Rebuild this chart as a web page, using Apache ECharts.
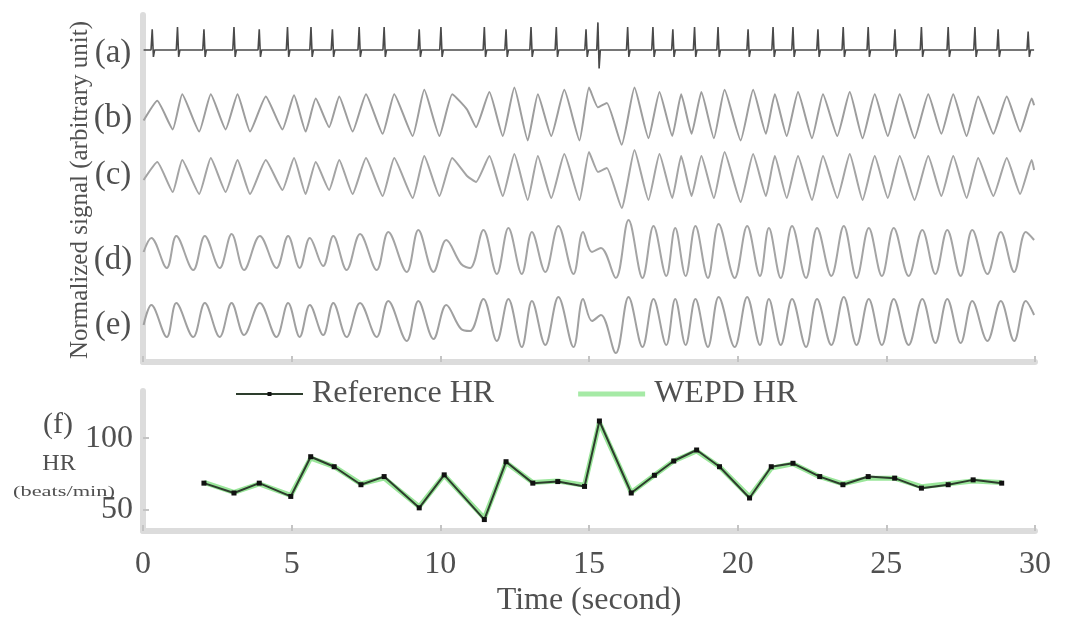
<!DOCTYPE html>
<html><head><meta charset="utf-8">
<script src="https://cdn.jsdelivr.net/npm/echarts@6/dist/echarts.min.js"></script>
<style>html,body{margin:0;padding:0;background:#fff}#chart{width:1075px;height:618px}</style>
</head><body><div id="chart"></div>
<script>
// ---------- data ----------
const xTicks = [0, 5, 10, 15, 20, 25, 30];
const hrTicks = [50, 100];
const panelLabels = ['(a)', '(b)', '(c)', '(d)', '(e)'];

// (a) ECG: R-peak times (s), peak height and S-dip (normalized)
const ecgTimes = [0.31, 1.16, 2.05, 3.06, 3.91, 4.86, 5.65, 6.37, 7.27, 8.11, 9.29, 10.02, 11.48, 12.21, 13.05, 13.9, 14.9, 15.3, 16.3, 17.15, 17.82, 18.55, 19.34, 20.35, 21.19, 21.86, 22.7, 23.55, 24.39, 25.29, 26.18, 27.08, 27.98, 28.76, 29.77];
const ecgPeak  = [0.9, 1.0, 0.9, 1.0, 0.9, 1.0, 1.0, 0.9, 1.0, 1.0, 0.9, 1.0, 1.0, 0.9, 1.0, 1.0, 0.9, 1.2, 1.0, 1.0, 0.9, 1.0, 1.0, 0.9, 1.0, 1.0, 0.9, 1.0, 1.0, 0.9, 1.0, 1.0, 1.0, 0.9, 0.8];
const ecgDip   = [-0.3, -0.3, -0.3, -0.3, -0.3, -0.3, -0.3, -0.3, -0.3, -0.3, -0.3, -0.3, -0.3, -0.3, -0.3, -0.3, -0.3, -0.8, -0.3, -0.3, -0.3, -0.3, -0.3, -0.3, -0.3, -0.3, -0.3, -0.3, -0.3, -0.3, -0.3, -0.3, -0.3, -0.3, -0.3];

// (b)-(e): times of the turning points (s) and normalized values
const tBC = [0.02, 0.48, 1.0, 1.32, 1.89, 2.28, 2.78, 3.18, 3.6, 4.13, 4.69, 5.08, 5.47, 5.81, 6.26, 6.6, 7.05, 7.5, 8.06, 8.45, 9.07, 9.46, 9.97, 10.4, 10.9, 11.2, 11.65, 12.1, 12.49, 12.94, 13.28, 13.73, 14.17, 14.68, 15.0, 15.3, 15.6, 16.1, 16.53, 17.0, 17.37, 17.8, 18.1, 18.45, 18.78, 19.2, 19.56, 20.1, 20.52, 20.95, 21.25, 21.65, 22.03, 22.5, 22.87, 23.35, 23.77, 24.2, 24.61, 25.05, 25.45, 25.95, 26.41, 26.85, 27.25, 27.7, 28.09, 28.6, 29.05, 29.5, 29.89, 29.97];
const tDE = [0.02, 0.28, 0.8, 1.12, 1.69, 2.08, 2.58, 2.98, 3.4, 3.93, 4.49, 4.88, 5.27, 5.61, 6.06, 6.4, 6.85, 7.3, 7.86, 8.25, 8.87, 9.26, 9.77, 10.2, 10.7, 11.0, 11.45, 11.9, 12.29, 12.74, 13.08, 13.53, 13.97, 14.48, 14.8, 15.1, 15.4, 15.9, 16.33, 16.8, 17.17, 17.6, 17.9, 18.25, 18.58, 19.0, 19.36, 19.9, 20.32, 20.75, 21.05, 21.45, 21.83, 22.3, 22.67, 23.15, 23.57, 24.0, 24.41, 24.85, 25.25, 25.75, 26.21, 26.65, 27.05, 27.5, 27.89, 28.4, 28.85, 29.3, 29.69, 29.97];
const bVals = [-0.3, 0.6, -0.7, 0.9, -0.8, 0.9, -0.7, 0.9, -0.8, 0.8,
  -0.7, 0.85, -0.8, 0.7, -0.6, 0.8, -0.8, 0.9, -0.9, 0.9,
  -1.0, 1.1, -1.0, 0.9, 0.2, -0.6, 1.0, -1.0, 1.2, -1.2,
  0.9, -1.0, 1.1, -1.2, 1.2, 0.3, 0.5, -1.4, 1.2, -1.1,
  1.0, -1.0, 0.9, -0.9, 1.0, -1.1, 1.1, -1.2, 1.1, -0.9,
  0.9, -1.0, 1.0, -1.1, 0.9, -1.0, 1.0, -1.1, 0.9, -1.0,
  0.9, -1.1, 0.9, -0.9, 0.9, -1.0, 0.8, -0.9, 0.8, -0.8,
  0.7, 0.4];
const cVals = [-0.2, 0.7, -0.8, 0.8, -0.9, 0.9, -0.8, 0.8, -0.9, 0.8,
  -0.7, 0.9, -0.9, 0.7, -0.7, 0.8, -0.9, 0.9, -1.0, 0.9,
  -1.1, 1.0, -1.0, 0.9, 0.0, -0.3, 1.0, -1.0, 1.1, -1.2,
  1.0, -1.1, 1.1, -1.2, 1.2, 0.2, 0.4, -1.6, 1.3, -1.2,
  1.1, -1.1, 1.0, -1.0, 1.0, -1.1, 1.2, -1.3, 1.1, -1.0,
  1.0, -1.1, 1.0, -1.2, 1.0, -1.1, 1.1, -1.2, 1.0, -1.1,
  1.0, -1.2, 1.0, -1.0, 1.0, -1.1, 0.9, -1.0, 0.9, -0.9,
  0.8, 0.3];
const dVals = [0.0, 0.7, -0.8, 0.8, -0.9, 0.8, -0.8, 0.9, -0.9, 0.8,
  -0.8, 0.8, -0.8, 0.7, -0.7, 0.8, -0.9, 0.9, -0.9, 1.0,
  -1.0, 1.1, -1.0, 0.6, -0.6, -0.8, 1.1, -1.1, 1.2, -1.1,
  1.0, -1.0, 1.3, -1.1, 1.0, 0.0, 0.2, -1.3, 1.6, -1.3,
  1.3, -1.2, 1.2, -1.2, 1.3, -1.3, 1.4, -1.3, 1.3, -1.2,
  1.2, -1.3, 1.3, -1.3, 1.2, -1.2, 1.3, -1.3, 1.2, -1.2,
  1.2, -1.2, 1.1, -1.1, 1.1, -1.2, 1.1, -1.1, 1.0, -1.0,
  1.0, 0.6];
const eVals = [-0.2, 0.8, -0.8, 0.9, -0.8, 0.9, -0.8, 0.9, -0.7, 0.9,
  -0.8, 0.9, -0.8, 0.8, -0.7, 0.9, -0.8, 0.9, -0.8, 1.0,
  -1.0, 1.0, -0.9, 0.8, -0.4, -0.5, 1.1, -1.0, 1.1, -1.3,
  1.0, -1.2, 1.2, -1.3, 1.1, 0.0, 0.3, -1.6, 1.2, -1.3,
  1.1, -1.2, 1.1, -1.2, 1.1, -1.3, 1.2, -1.3, 1.2, -1.2,
  1.1, -1.2, 1.1, -1.3, 1.1, -1.2, 1.2, -1.2, 1.1, -1.2,
  1.1, -1.2, 1.1, -1.1, 1.1, -1.1, 1.0, -1.0, 1.0, -1.0,
  1.0, 0.3];

// (f) heart rate
const hrTime = [2.05, 3.06, 3.91, 4.97, 5.64, 6.43, 7.33, 8.11, 9.29, 10.13, 11.48, 12.21, 13.11, 13.95, 14.85, 15.35, 16.42, 17.2, 17.85, 18.62, 19.39, 20.4, 21.13, 21.86, 22.76, 23.54, 24.39, 25.28, 26.18, 27.08, 27.92, 28.88];
const refHR  = [68.5, 61.6, 68.5, 59.2, 87, 80, 67.4, 73.1, 51.2, 74.3, 43, 83.5, 68.5, 69.6, 66.2, 112, 61.6, 74, 84, 91.7, 80, 58.1, 80, 82.4, 73.1, 67.4, 73.1, 72, 65, 67.4, 70.8, 68.5];
const wepdHR = [69, 62, 68, 60, 86, 80, 68, 72, 52, 74, 44, 83, 69, 70, 67, 111, 62, 74, 84, 91, 80, 59, 79, 82, 73, 68, 72, 72, 66, 68, 70, 69];

// ---------- layout / styling ----------
const FONT = '"Liberation Serif", "DejaVu Serif", serif';
const TXT = '#505050';
const AX = '#dcdcdc';
// vertical placement of each trace in the top panel (axis units = px)
const laneA = {base: 312, scale: 23};
const lanes = [{base: 248, scale: 22}, {base: 186, scale: 20}, {base: 110, scale: 20}, {base: 41, scale: 20}];

const ecgData = [[0.02, laneA.base]];
ecgTimes.forEach((t, i) => {
  ecgData.push([t - 0.04, laneA.base]);
  ecgData.push([t, laneA.base + ecgPeak[i] * laneA.scale]);
  ecgData.push([t + 0.04, laneA.base + ecgDip[i] * laneA.scale]);
  ecgData.push([t + 0.08, laneA.base]);
});
ecgData.push([29.97, laneA.base]);

function lane(times, vals, ln) {
  return times.map((t, i) => [t, ln.base + vals[i] * ln.scale]);
}
const sig = [lane(tBC, bVals, lanes[0]), lane(tBC, cVals, lanes[1]), lane(tDE, dVals, lanes[2]), lane(tDE, eVals, lanes[3])];

const chart = echarts.init(document.getElementById('chart'), null, {renderer: 'canvas'});

const labelYs = [53, 118, 175, 260, 325];
const graphics = panelLabels.map((s, i) => ({
  type: 'text', x: 113, y: labelYs[i],
  style: {text: s, font: '33px ' + FONT, fill: TXT, align: 'center', verticalAlign: 'middle'}
}));
graphics.push({type: 'text', x: 80, y: 190, rotation: Math.PI / 2,
  style: {text: 'Normalized signal (arbitrary unit)', font: '25px ' + FONT, fill: TXT, align: 'center', verticalAlign: 'middle'}});
graphics.push({type: 'text', x: 58, y: 425, style: {text: '(f)', font: '30px ' + FONT, fill: TXT, align: 'center', verticalAlign: 'middle'}});
graphics.push({type: 'text', x: 59, y: 464, style: {text: 'HR', font: '24px ' + FONT, fill: TXT, align: 'center', verticalAlign: 'middle'}});
graphics.push({type: 'text', x: 64, y: 492, scaleX: 1.6, originX: 0, style: {text: '(beats/min)', font: '14px ' + FONT, fill: TXT, align: 'center', verticalAlign: 'middle'}});
graphics.push({type: 'text', x: 589, y: 601, style: {text: 'Time (second)', font: '32px ' + FONT, fill: TXT, align: 'center', verticalAlign: 'middle'}});

const axisLine = {show: true, onZero: false, lineStyle: {color: AX, width: 6}};
const tick = {show: true, inside: true, length: 6, lineStyle: {color: '#c4c4c4', width: 2}};

chart.setOption({
  animation: false,
  backgroundColor: '#ffffff',
  grid: [
    {left: 143, width: 892, top: 15, height: 347},
    {left: 143, width: 892, top: 391, height: 140}
  ],
  xAxis: [
    {type: 'value', gridIndex: 0, min: 0, max: 30, interval: 5, axisLine, axisTick: tick,
      axisLabel: {show: false}, splitLine: {show: false}},
    {type: 'value', gridIndex: 1, min: 0, max: 30, interval: 5, axisLine, axisTick: tick,
      axisLabel: {show: true, margin: 18, color: TXT, fontFamily: FONT, fontSize: 32,
        formatter: v => xTicks.includes(v) ? String(v) : ''},
      splitLine: {show: false}}
  ],
  yAxis: [
    {type: 'value', gridIndex: 0, min: 0, max: 347, axisLine, axisTick: {show: false},
      axisLabel: {show: false}, splitLine: {show: false}},
    {type: 'value', gridIndex: 1, min: 35, max: 133, axisLine,
      axisTick: Object.assign({}, tick, {customValues: hrTicks}),
      axisLabel: {show: true, customValues: hrTicks, margin: 10, color: TXT, fontFamily: FONT, fontSize: 32},
      splitLine: {show: false}}
  ],
  legend: {
    left: 230, top: 373, itemWidth: 67, itemHeight: 5, itemGap: 84,
    textStyle: {fontFamily: FONT, fontSize: 32, color: TXT, padding: [0, 0, 0, 4]},
    data: [{name: 'Reference HR'}, {name: 'WEPD HR', icon: 'rect', itemStyle: {color: '#a6eaa6'}}]
  },
  graphic: graphics,
  series: [
    {type: 'line', xAxisIndex: 0, yAxisIndex: 0, data: ecgData, showSymbol: false, silent: true,
      lineStyle: {color: '#4a4a4a', width: 1.6}},
    {type: 'line', xAxisIndex: 0, yAxisIndex: 0, data: sig[0], showSymbol: false, silent: true, smooth: 0.15,
      lineStyle: {color: '#9d9d9d', width: 2}},
    {type: 'line', xAxisIndex: 0, yAxisIndex: 0, data: sig[1], showSymbol: false, silent: true, smooth: 0.15,
      lineStyle: {color: '#a4a4a4', width: 2}},
    {type: 'line', xAxisIndex: 0, yAxisIndex: 0, data: sig[2], showSymbol: false, silent: true, smooth: 0.35,
      lineStyle: {color: '#a4a4a4', width: 2}},
    {type: 'line', xAxisIndex: 0, yAxisIndex: 0, data: sig[3], showSymbol: false, silent: true, smooth: 0.35,
      lineStyle: {color: '#a0a0a0', width: 2}},
    {name: 'WEPD HR', type: 'line', xAxisIndex: 1, yAxisIndex: 1,
      data: hrTime.map((t, i) => [t, wepdHR[i]]), symbol: 'none', z: 2,
      itemStyle: {color: '#9ae69a'}, lineStyle: {color: '#9ae69a', width: 5}},
    {name: 'Reference HR', type: 'line', xAxisIndex: 1, yAxisIndex: 1,
      data: hrTime.map((t, i) => [t, refHR[i]]), symbol: 'rect', symbolSize: 5, z: 3,
      itemStyle: {color: '#111'}, lineStyle: {color: '#2d3d2d', width: 2}}
  ]
});
</script>
</body></html>
